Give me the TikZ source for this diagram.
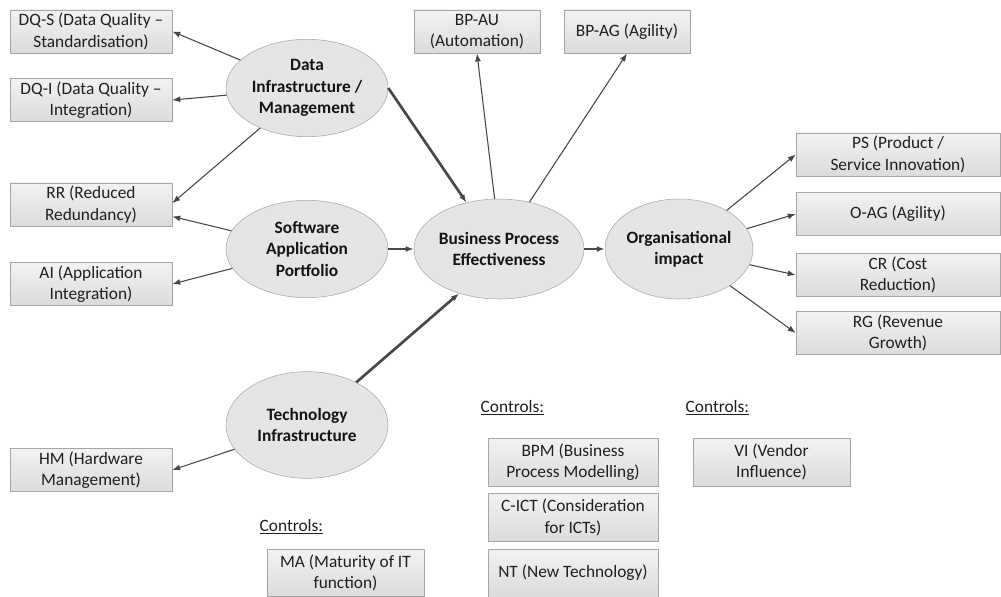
\documentclass[tikz,border=0pt]{standalone}
\usepackage{fontspec}
\setmainfont{Carlito}
\usepackage{tikz}
\usetikzlibrary{
    arrows.meta,
    shapes.geometric,
    calc
}

\begin{document}
\begin{tikzpicture}[>={Latex[length=6pt,width=4.5pt]},x=0.75pt,y=-0.75pt,
        box/.style={draw=black!35, top color=black!5, bottom color=black!14, align=center,
            minimum width=121.5pt, minimum height=32.5pt, inner sep=1pt,
            font=\fontsize{13}{16}\selectfont, text=black!88},
        construct/.style={ellipse, draw=black!35, fill=black!10, align=center, inner sep=0pt,
            font=\fontsize{13}{16}\selectfont\bfseries, text=black!92},
        thin/.style={->, draw=black!72, line width=0.8pt},
        thick/.style={->, draw=black!72, line width=2pt},
        ctrl/.style={anchor=west, font=\fontsize{13}{16}\selectfont, text=black!88}]
            \useasboundingbox (0,0) rectangle (1001,597);

            % constructs
            \node[construct, minimum width=121.5pt, minimum height=73pt] (di) at (307,88) {Data\\Infrastructure /\\Management};
            \node[construct, minimum width=121.5pt, minimum height=73pt] (sap) at (307,249) {Software\\Application\\Portfolio};
            \node[construct, minimum width=121.5pt, minimum height=80pt] (ti) at (307,425) {Technology\\Infrastructure};
            \node[construct, minimum width=106.5pt, minimum height=75pt] (bpe) at (499,249) {Business Process\\Effectiveness};
            \node[construct, minimum width=106.5pt, minimum height=75pt] (oi) at (679,249) {Organisational\\impact};

            % indicators
            \node[box] (dqs) at (91,31.5) {DQ-S (Data Quality --\\Standardisation)};
            \node[box] (dqi) at (91,100) {DQ-I (Data Quality --\\Integration)};
            \node[box] (rr) at (91,204.5) {RR (Reduced\\Redundancy)};
            \node[box] (ai) at (91,284) {AI (Application\\Integration)};
            \node[box] (hm) at (91,470) {HM (Hardware\\Management)};
            \node[box, minimum width=94.5pt] (bpau) at (477,31.5) {BP-AU\\(Automation)};
            \node[box, minimum width=94.5pt] (bpag) at (627,31.5) {BP-AG (Agility)};
            \node[box, minimum width=153pt] (ps) at (898,154.5) {PS (Product /\\Service Innovation)};
            \node[box, minimum width=153pt] (oag) at (898,214) {O-AG (Agility)};
            \node[box, minimum width=153pt] (cr) at (898,275) {CR (Cost\\Reduction)};
            \node[box, minimum width=153pt] (rg) at (898,333) {RG (Revenue\\Growth)};

            % controls
            \node[ctrl] (ctrlma) at (255,527) {\underline{Controls:}};
            \node[ctrl] (ctrlbp) at (476,408) {\underline{Controls:}};
            \node[ctrl] (ctrlvi) at (681,408) {\underline{Controls:}};
            \node[box, minimum width=118pt, minimum height=35pt] (ma) at (345.5,573) {MA (Maturity of IT\\function)};
            \node[box, minimum width=127.5pt, minimum height=36pt] (bpm) at (573,462) {BPM (Business\\Process Modelling)};
            \node[box, minimum width=127.5pt, minimum height=36pt] (cict) at (573,517.5) {C-ICT (Consideration\\for ICTs)};
            \node[box, minimum width=127.5pt, minimum height=36pt] (nt) at (573,573) {NT (New Technology)};
            \node[box, minimum width=118pt, minimum height=36pt] (vi) at (771.5,462) {VI (Vendor\\Influence)};

            % measurement arrows
            \draw[thin] (di) -- (dqs.east);
            \draw[thin] (di) -- (dqi.east);
            \draw[thin] (di) -- ([yshift=1pt]rr.east);
            \draw[thin] (sap) -- ([yshift=-9pt]rr.east);
            \draw[thin] (sap) -- (ai.east);
            \draw[thin] (ti) -- (hm.east);
            \draw[thin] (bpe.95) -- (bpau.south);
            \draw[thin] (bpe.57) -- (bpag.south);
            \draw[thin] (oi) -- (ps.west);
            \draw[thin] (oi) -- (oag.west);
            \draw[thin] (oi) -- (cr.west);
            \draw[thin] (oi) -- (rg.west);

            % structural paths
            \draw[thick] (di.east) -- (bpe.125);
            \draw[thick] (sap) -- (bpe);
            \draw[thick] (ti) -- (bpe.228);
            \draw[thick] (bpe) -- (oi);
        \end{tikzpicture}
\end{document}
